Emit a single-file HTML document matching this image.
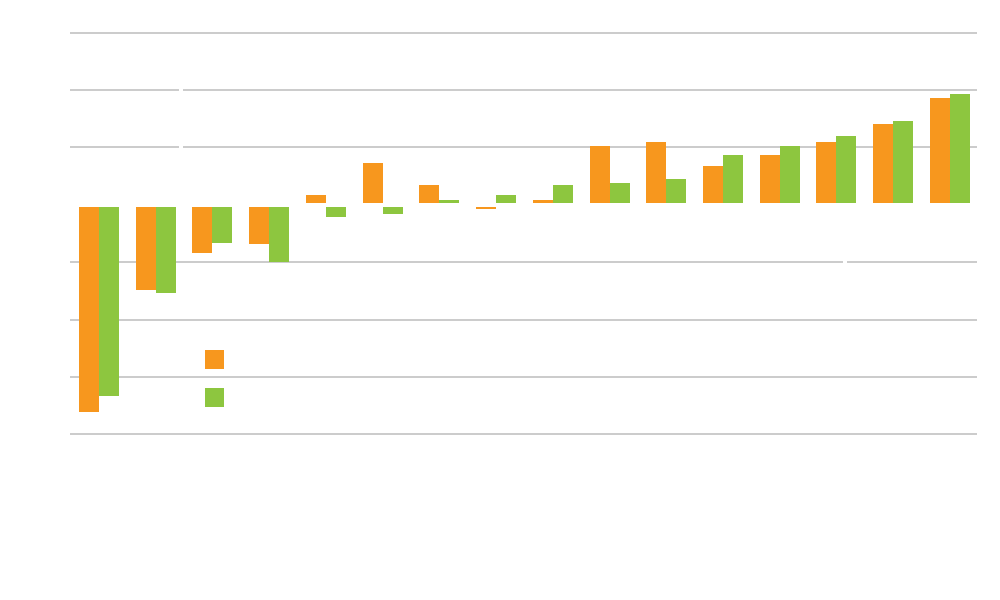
<!DOCTYPE html>
<html><head><meta charset="utf-8"><style>body{margin:0;background:#fff}svg{display:block}</style></head><body>
<svg width="1000" height="600" xmlns="http://www.w3.org/2000/svg">
<rect width="1000" height="600" fill="#fff"/>
<g stroke="#cccccc" stroke-width="2">
<line x1="70" x2="977" y1="33" y2="33"/>
<line x1="70" x2="977" y1="90" y2="90"/>
<line x1="70" x2="977" y1="147" y2="147"/>
<line x1="70" x2="977" y1="262" y2="262"/>
<line x1="70" x2="977" y1="320" y2="320"/>
<line x1="70" x2="977" y1="377" y2="377"/>
<line x1="70" x2="977" y1="434" y2="434"/>
</g>
<rect x="179" y="86" width="4" height="66" fill="#fff"/>
<rect x="843" y="258" width="4" height="8" fill="#fff"/>
<g fill="#f7971e">
<rect x="79" y="207" width="20" height="205"/>
<rect x="136" y="207" width="20" height="83"/>
<rect x="192" y="207" width="20" height="46"/>
<rect x="249" y="207" width="20" height="37"/>
<rect x="306" y="195" width="20" height="8"/>
<rect x="363" y="163" width="20" height="40"/>
<rect x="419" y="185" width="20" height="18"/>
<rect x="476" y="207" width="20" height="2"/>
<rect x="533" y="200" width="20" height="3"/>
<rect x="590" y="146" width="20" height="57"/>
<rect x="646" y="142" width="20" height="61"/>
<rect x="703" y="166" width="20" height="37"/>
<rect x="760" y="155" width="20" height="48"/>
<rect x="816" y="142" width="20" height="61"/>
<rect x="873" y="124" width="20" height="79"/>
<rect x="930" y="98" width="20" height="105"/>
<rect x="205" y="350" width="19" height="19"/>
</g>
<g fill="#8dc63f">
<rect x="99" y="207" width="20" height="189"/>
<rect x="156" y="207" width="20" height="86"/>
<rect x="212" y="207" width="20" height="36"/>
<rect x="269" y="207" width="20" height="55"/>
<rect x="326" y="207" width="20" height="10"/>
<rect x="383" y="207" width="20" height="7"/>
<rect x="439" y="200" width="20" height="3"/>
<rect x="496" y="195" width="20" height="8"/>
<rect x="553" y="185" width="20" height="18"/>
<rect x="610" y="183" width="20" height="20"/>
<rect x="666" y="179" width="20" height="24"/>
<rect x="723" y="155" width="20" height="48"/>
<rect x="780" y="146" width="20" height="57"/>
<rect x="836" y="136" width="20" height="67"/>
<rect x="893" y="121" width="20" height="82"/>
<rect x="950" y="94" width="20" height="109"/>
<rect x="205" y="388" width="19" height="19"/>
</g>
</svg>
</body></html>
